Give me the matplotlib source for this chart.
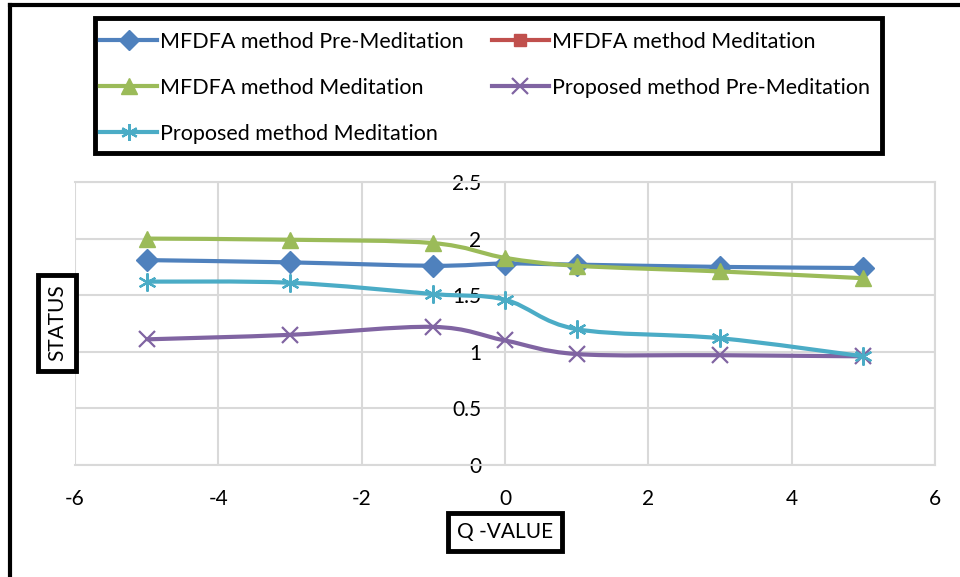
import numpy as np
import matplotlib.pyplot as plt
from matplotlib.path import Path
from matplotlib.patches import PathPatch, Rectangle
from matplotlib.lines import Line2D

plt.rcParams['font.family'] = ['Lato', 'DejaVu Sans']
plt.rcParams['axes.unicode_minus'] = False

# data
q_values = [-5, -3, -1, 0, 1, 3, 5]
mfdfa_pre = [1.81, 1.79, 1.76, 1.78, 1.77, 1.75, 1.74]
mfdfa_med_red = []   # only shows up in the legend
mfdfa_med = [2.00, 1.99, 1.96, 1.83, 1.76, 1.71, 1.65]
proposed_pre = [1.11, 1.15, 1.22, 1.10, 0.98, 0.97, 0.96]
proposed_med = [1.62, 1.61, 1.51, 1.46, 1.20, 1.12, 0.96]

series = [
    ('MFDFA method Pre-Meditation', mfdfa_pre, '#4F81BD', 'D', 11),
    ('MFDFA method Meditation', mfdfa_med_red, '#C0504D', 's', 10),
    ('MFDFA method Meditation', mfdfa_med, '#9BBB59', '^', 12),
    ('Proposed method Pre-Meditation', proposed_pre, '#8064A2', 'x', 12),
    ('Proposed method Meditation', proposed_med, '#4BACC6', (6, 2, 0), 13),
]


def smooth_path(xs, ys):
    # excel style smoothed line, cubic bezier between the points
    pts = np.column_stack([xs, ys]).astype(float)
    n = len(pts)
    verts = [pts[0]]
    codes = [Path.MOVETO]
    for i in range(n - 1):
        p0 = pts[i - 1] if i > 0 else pts[i]
        p1 = pts[i]
        p2 = pts[i + 1]
        p3 = pts[i + 2] if i + 2 < n else pts[i + 1]
        verts += [p1 + (p2 - p0) / 6.0, p2 - (p3 - p1) / 6.0, p2]
        codes += [Path.CURVE4] * 3
    return Path(verts, codes)


fig = plt.figure(figsize=(9.6, 5.77), dpi=100)
ax = fig.add_axes([75 / 960, 1 - 465 / 577, 860 / 960, 283 / 577])

handles = []
for i, (name, vals, col, mk, ms) in enumerate(series):
    mew = 1.6 if mk == 'x' or isinstance(mk, tuple) else 1
    if len(vals):
        ax.add_patch(PathPatch(smooth_path(q_values, vals), fill=False,
                               edgecolor=col, lw=3, zorder=3 + i))
        ax.plot(q_values, vals, linestyle='none', marker=mk, markersize=ms,
                color=col, markeredgewidth=mew, zorder=3 + i)
    handles.append(Line2D([], [], color=col, lw=3, marker=mk, markersize=ms - 1,
                          markeredgewidth=mew, label=name))

ax.set_xlim(-6, 6)
ax.set_ylim(0, 2.5)
ax.set_xticks(np.arange(-6, 7, 2))
ax.set_yticks(np.arange(0, 2.6, 0.5))
ax.set_yticklabels(['0', '0.5', '1', '1.5', '2', '2.5'])
ax.grid(True, color='#d9d9d9', lw=1.5)
ax.set_axisbelow(True)
for s in ['top', 'right', 'bottom']:
    ax.spines[s].set_color('#d9d9d9')
    ax.spines[s].set_linewidth(1.5)
ax.spines['left'].set_position(('data', 0))
ax.spines['left'].set_color('none')
ax.tick_params(axis='both', length=0, labelsize=15)
ax.tick_params(axis='x', pad=17)
ax.tick_params(axis='y', pad=17)

# legend box drawn separately, entries placed inside it row by row
fig.add_artist(Rectangle((95 / 960, 1 - 153 / 577), 787 / 960, 135 / 577,
                         transform=fig.transFigure, fill=True, fc='white',
                         ec='black', lw=3.5, zorder=5))
order = [0, 2, 4, 1, 3]
leg = fig.legend([handles[k] for k in order], [handles[k].get_label() for k in order],
                 loc='upper left', bbox_to_anchor=(100 / 960, 1 - 32 / 577),
                 ncol=2, fontsize=15.5, handlelength=2.65, handletextpad=0.15,
                 labelspacing=1.2, borderaxespad=0, borderpad=0,
                 frameon=False, columnspacing=1.3)
leg.set_zorder(6)

box = dict(boxstyle='square,pad=0.45', fc='white', ec='black', lw=3.5)
fig.text(57 / 960, 1 - 323 / 577, 'STATUS', rotation=90, fontsize=15,
         ha='center', va='center', bbox=box)
fig.text(505 / 960, 1 - 532 / 577, 'Q -VALUE', fontsize=15,
         ha='center', va='center', bbox=box)

# outer frame of the cropped chart
fig.add_artist(Line2D([10 / 960, 10 / 960], [0, 1 - 5 / 577], color='black', lw=3))
fig.add_artist(Line2D([10 / 960, 1], [1 - 5 / 577, 1 - 5 / 577], color='black', lw=3))

fig.savefig('out.png', dpi=100)
